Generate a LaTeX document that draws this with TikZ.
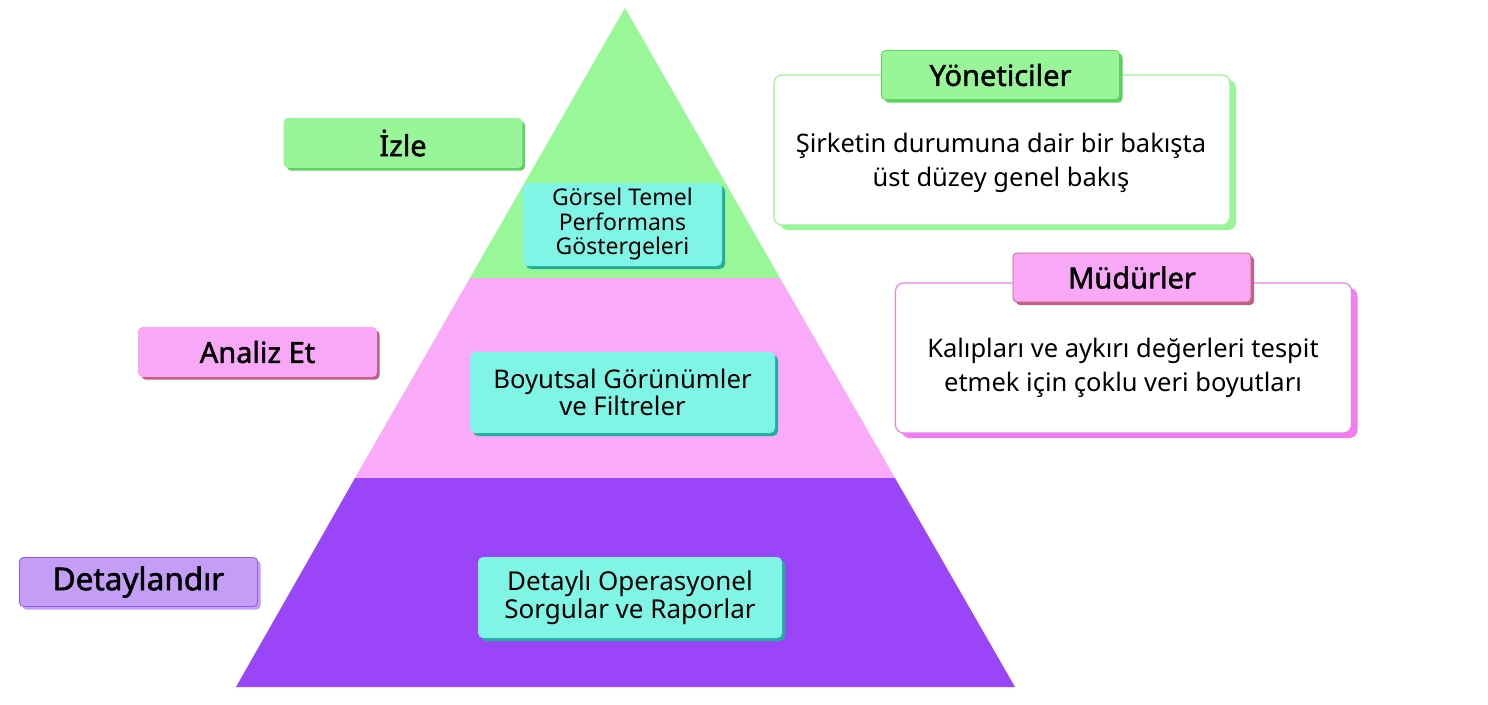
\documentclass[tikz,border=0pt]{standalone}
\usepackage{fontspec}
\setmainfont{Noto Sans}
\newfontfamily\hdfont[FakeBold=1.6]{Noto Sans}
\usetikzlibrary{shadows}
\definecolor{pgreen}{HTML}{98F898}
\definecolor{ppink}{HTML}{F9AAF9}
\definecolor{ppurple}{HTML}{9A46F8}
\definecolor{lgreen}{HTML}{98F598}
\definecolor{sgreen}{HTML}{5CD35C}
\definecolor{lpink}{HTML}{F9A8F7}
\definecolor{spink}{HTML}{C2607E}
\definecolor{bpink}{HTML}{F07EEE}
\definecolor{lpurple}{HTML}{C39DF6}
\definecolor{bpurple}{HTML}{8F5DE0}
\definecolor{cyanbox}{HTML}{80F5E6}
\definecolor{steal}{HTML}{22AE9E}
\begin{document}
\begin{tikzpicture}[x=1pt,y=-1pt,
  every node/.style={inner sep=0pt, align=center, text=black},
  tagbox/.style n args={3}{rounded corners=4pt, minimum width=238pt, minimum height=49pt,
    font=\hdfont\fontsize{29}{32}\selectfont, fill=#1, draw=#2, line width=0.8pt,
    drop shadow={shadow xshift=3pt, shadow yshift=-3pt, fill=#3, opacity=1}},
  cyanbox/.style={rounded corners=5pt, fill=cyanbox, draw=none,
    drop shadow={shadow xshift=3pt, shadow yshift=-3pt, fill=steal, opacity=1}},
  bodybox/.style 2 args={rounded corners=8pt, minimum width=456pt, minimum height=150pt,
    fill=white, draw=#1, line width=1.2pt,
    drop shadow={shadow xshift=6pt, shadow yshift=-5pt, fill=#2, opacity=1}},
  bodytext/.style={font=\fontsize{25.5}{34}\selectfont}
]
\useasboundingbox (0,0) rectangle (1488,704);
\fill[white] (0,0) rectangle (1488,704);
% pyramid
\fill[pgreen] (625,8) -- (780,278) -- (470,278) -- cycle;
\fill[ppink] (470,278) -- (780,278) -- (895,478) -- (355,478) -- cycle;
\fill[ppurple] (355,478) -- (895,478) -- (1015,687) -- (236,687) -- cycle;
% cyan boxes
\node[cyanbox, minimum width=199pt, minimum height=83pt, font=\fontsize{23}{24.5}\selectfont] (kpi) at (622.5,224.5) {Görsel Temel\\Performans\\Göstergeleri};
\node[cyanbox, minimum width=305pt, minimum height=81pt, font=\fontsize{25.7}{26.5}\selectfont] (dim) at (622.5,392.5) {Boyutsal Görünümler\\ve Filtreler};
\node[cyanbox, minimum width=304pt, minimum height=81pt, font=\fontsize{26}{28}\selectfont] (det) at (630,597.5) {Detaylı Operasyonel\\Sorgular ve Raporlar};
% left tags
\node[tagbox={lgreen}{lgreen}{sgreen}] (izle) at (403,143) {İzle};
\node[tagbox={lpink}{lpink}{spink}] (analiz) at (257.5,352) {Analiz Et};
\node[tagbox={lpurple}{bpurple}{lpurple}, font=\hdfont\fontsize{31.5}{34}\selectfont] (detay) at (138.5,582) {Detaylandır};
% right body boxes
\node[bodybox={lgreen}{lgreen}] (ybody) at (1002,150) {};
\node[tagbox={lgreen}{sgreen}{sgreen}] (yon) at (1000.5,75) {Yöneticiler};
\node[bodytext] (ytext) at (1001,163) {Şirketin durumuna dair bir bakışta\\üst düzey genel bakış};
\node[bodybox={bpink}{bpink}] (mbody) at (1123.5,358) {};
\node[tagbox={lpink}{spink}{spink}] (mud) at (1132,277.5) {Müdürler};
\node[bodytext] (mtext) at (1123,368) {Kalıpları ve aykırı değerleri tespit\\etmek için çoklu veri boyutları};
\end{tikzpicture}
\end{document}
